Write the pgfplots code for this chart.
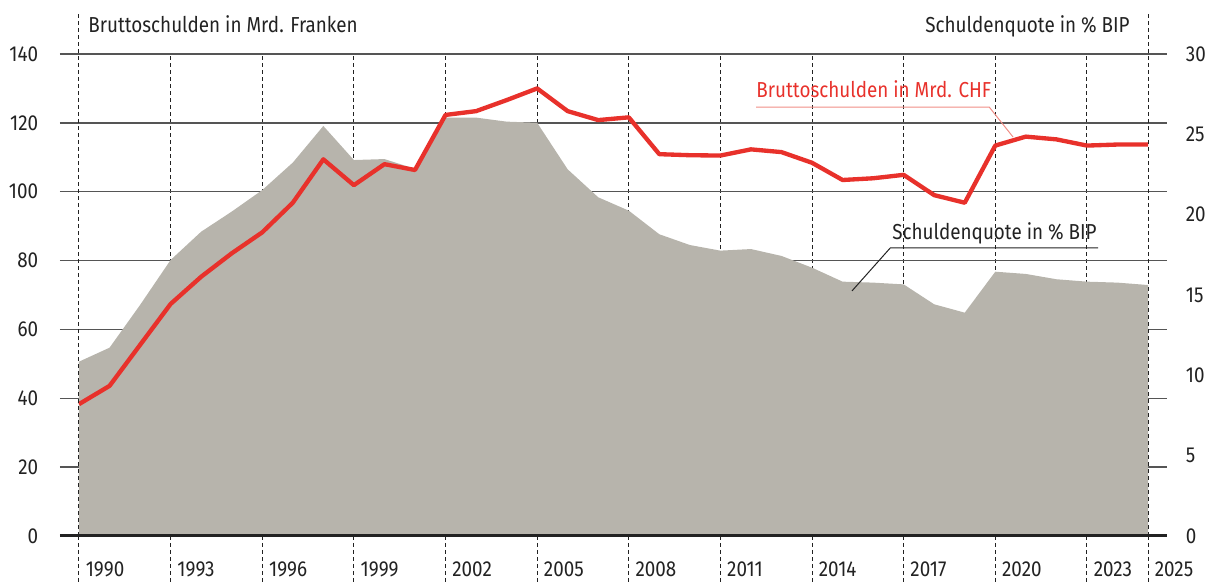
\documentclass[border=0pt,12pt]{standalone}
\usepackage{fontspec}
\setmainfont{Fira Sans}[FakeStretch=0.87]
\usepackage{pgfplots}
\usepackage{pgfplotstable}
\pgfplotsset{compat=1.18}
\definecolor{debtred}{HTML}{E8312B}
\definecolor{annored}{HTML}{F08E86}
\definecolor{quotegray}{HTML}{B7B4AC}
\definecolor{textdark}{HTML}{222222}
\definecolor{gridgray}{HTML}{555555}
\newcommand\chartfont{\fontsize{13}{15.6}\selectfont}

% year, gross debt (bn CHF, left axis), debt ratio (% GDP, right axis)
\pgfplotstableread{
year debt quote
1990 38.3 10.85
1991 43.6 11.72
1992 55.5 14.38
1993 67.4 17.18
1994 75.3 18.94
1995 82.1 20.19
1996 88.2 21.53
1997 96.8 23.24
1998 109.4 25.52
1999 101.9 23.40
2000 108.0 23.46
2001 106.3 22.85
2002 122.3 26.04
2003 123.4 26.04
2004 126.6 25.79
2005 130.0 25.72
2006 123.4 22.82
2007 120.8 21.08
2008 121.6 20.25
2009 110.9 18.78
2010 110.6 18.11
2011 110.5 17.76
2012 112.3 17.86
2013 111.5 17.43
2014 108.4 16.70
2015 103.4 15.83
2016 103.9 15.77
2017 104.9 15.66
2018 99.0 14.42
2019 96.8 13.90
2020 113.4 16.45
2021 116.0 16.31
2022 115.2 15.98
2023 113.4 15.83
2024 113.7 15.77
2025 113.7 15.62
}\schulden

\tikzset{dashline/.style={textdark,line width=0.6pt,dash pattern=on 2.4pt off 1.8pt}}
\pgfplotsset{
  base/.style={scale only axis,width=664.2pt,height=289.2pt,
    xmin=1989.378,xmax=2025.622,clip=false,
    /pgf/number format/assume math mode=true,
    tick label style={font=\chartfont,text=textdark}}
}

\begin{document}
\begin{tikzpicture}
\useasboundingbox (-36pt,-28.2pt) rectangle (690pt,321.6pt);
% grid and left/bottom labels
\begin{axis}[base,ymin=0,ymax=140,ytick={0,20,...,140},
  xtick={1990,1993,1996,1999,2002,2005,2008,2011,2014,2017,2020,2023,2025},
  xticklabels={1990,1993,1996,1999,2002,2005,2008,2011,2014,2017,2020,2023,2025},
  major tick length=0,axis line style={draw=none},
  xmajorgrids,ymajorgrids,
  x grid style={dashline},
  y grid style={gridgray,line width=0.8pt},
  yticklabel style={xshift=-8.9pt},
  xticklabel style={anchor=base west,xshift=-0.1pt,yshift=-24.6pt}]
\end{axis}
% debt ratio, right axis
\begin{axis}[base,ymin=0,ymax=30,ytick={0,5,...,30},
  axis y line*=right,axis x line=none,major tick length=0,
  y axis line style={draw=none},
  yticklabel style={xshift=7.1pt}]
\addplot[fill=quotegray,draw=none] table[x=year,y=quote]{\schulden} \closedcycle;
\end{axis}
% gross debt, left axis
\begin{axis}[base,ymin=0,ymax=140,hide axis]
\addplot[debtred,line width=2.6pt,line join=round] table[x=year,y=debt]{\schulden};
\pgfplotsinvokeforeach{1990,1993,1996,1999,2002,2005,2008,2011,2014,2017,2020,2023,2025}{
  \draw[dashline] (axis cs:#1,0) -- (axis cs:#1,-13.65);
}
\draw[dashline] (axis cs:1990,0) -- (axis cs:1990,152.2);
\draw[dashline] (axis cs:2025,0) -- (axis cs:2025,152.2);
\draw[textdark,line width=1.8pt] (axis cs:1989.378,0) -- (axis cs:2025.622,0);
\node[anchor=base west,inner sep=0,text=textdark,font=\chartfont] at (axis cs:1990.295,146.1) {Bruttoschulden in Mrd. Franken};
\node[anchor=base east,inner sep=0,text=textdark,font=\chartfont] at (axis cs:2024.41,146.1) {Schuldenquote in \% BIP};
\draw[annored,line width=0.6pt] (axis cs:2012.17,124.6) -- (axis cs:2019.80,124.6) -- (axis cs:2020.58,115.9);
\node[anchor=base west,inner sep=0,text=debtred,font=\chartfont] at (axis cs:2012.17,127.5) {Bruttoschulden in Mrd. CHF};
\draw[textdark,line width=0.6pt] (axis cs:2015.31,71.2) -- (axis cs:2016.56,83.65) -- (axis cs:2023.37,83.65);
\node[anchor=base west,inner sep=0,text=textdark,font=\chartfont] at (axis cs:2016.62,86.0) {Schuldenquote in \% BIP};
\end{axis}
\end{tikzpicture}
\end{document}
